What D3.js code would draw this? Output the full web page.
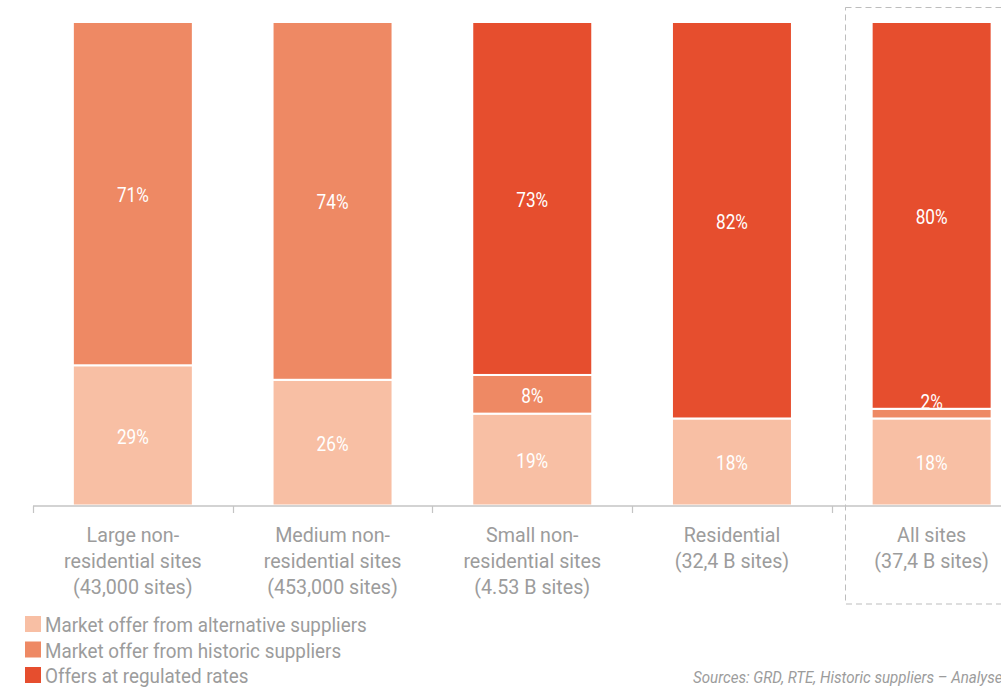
<!DOCTYPE html>
<html>
<head>
<meta charset="utf-8">
<script src="https://cdn.jsdelivr.net/npm/d3@7/dist/d3.min.js"></script>
<style>
  html, body { margin: 0; padding: 0; background: #fff; overflow: hidden; }
  svg { display: block; font-family: Roboto, "Noto Sans", sans-serif; }
</style>
</head>
<body>
<svg id="chart" width="1001" height="687"></svg>
<script>
// Site segments (x axis)
const categories = ["Large", "Medium", "Small", "Residential", "All"];
const categoryLabels = [
  ["Large non-", "residential sites", "(43,000 sites)"],
  ["Medium non-", "residential sites", "(453,000 sites)"],
  ["Small non-", "residential sites", "(4.53 B sites)"],
  ["Residential", "(32,4 B sites)"],
  ["All sites", "(37,4 B sites)"]
];

// Share of sites by offer type, in %
const alternativeSuppliers = [29, 26, 19, 18, 18];
const historicSuppliers    = [71, 74, 8, 0, 2];
const regulatedRates       = [0, 0, 73, 82, 80];

const seriesKeys   = ["alternative", "historic", "regulated"];
const seriesLabels = [
  "Market offer from alternative suppliers",
  "Market offer from historic suppliers",
  "Offers at regulated rates"
];
const seriesColors = ["#F8BFA4", "#EE8964", "#E64E2E"];

const sourceNote = "Sources: GRD, RTE, Historic suppliers \u2013 Analyses CRE";

const rows = categories.map((c, i) => ({
  category: c,
  alternative: alternativeSuppliers[i],
  historic: historicSuppliers[i],
  regulated: regulatedRates[i]
}));

const svg = d3.select("#chart");
const textGrey = "#9c9c9c";

const x = d3.scaleBand().domain(categories).range([33, 33 + 5 * 199.7]).padding(0);
const y = d3.scaleLinear().domain([0, 100]).range([505.5, 22]);
const color = d3.scaleOrdinal().domain(seriesKeys).range(seriesColors);
const barInset = (x.bandwidth() - 120) / 2;

const stacked = d3.stack().keys(seriesKeys)(rows);

// dashed frame around the "All sites" column
svg.append("rect")
  .attr("x", 845.5).attr("y", 7.5)
  .attr("width", 200).attr("height", 596.5)
  .attr("fill", "none")
  .attr("stroke", "#bdbdbd")
  .attr("stroke-width", 1)
  .attr("stroke-dasharray", "6,4");

// stacked bars
const layers = svg.append("g").selectAll("g")
  .data(stacked)
  .join("g")
  .attr("fill", d => color(d.key));

layers.selectAll("rect")
  .data(d => d.filter(s => s[1] - s[0] > 0))
  .join("rect")
  .attr("x", d => x(d.data.category) + barInset)
  .attr("width", 120)
  .attr("y", d => y(d[1]))
  .attr("height", d => y(d[0]) - y(d[1]))
  .attr("stroke", "#fff")
  .attr("stroke-width", 2);

// text drawn with horizontally narrowed letterforms
function squeezedText(parent, tx, ty, txt, size, fill, anchor, sx, style) {
  const g = parent.append("g").attr("transform", `translate(${tx},${ty}) scale(${sx},1)`);
  const t = g.append("text")
    .attr("text-anchor", anchor)
    .attr("font-size", size)
    .attr("fill", fill)
    .text(txt);
  if (style) t.attr("font-style", style);
  return t;
}

// value labels inside segments
const labelLayer = svg.append("g");
stacked.forEach(layer => {
  layer.forEach(s => {
    const v = s[1] - s[0];
    if (v <= 0) return;
    const top = y(s[1]), bottom = y(s[0]);
    const h = bottom - top;
    const cx = x(s.data.category) + x.bandwidth() / 2;
    const by = h < 20 ? top : (top + bottom) / 2 + 8.5;
    squeezedText(labelLayer, cx, by, v + "%", 20, "#fff", "middle", 0.86);
  });
});

// axis line with ticks at band edges
const axis = svg.append("g");
axis.append("line")
  .attr("x1", x.range()[0]).attr("x2", 1001)
  .attr("y1", 506).attr("y2", 506)
  .attr("stroke", "#c4c4c4").attr("stroke-width", 1.5);
categories.forEach(c => {
  axis.append("line")
    .attr("x1", Math.round(x(c)) + 0.5).attr("x2", Math.round(x(c)) + 0.5)
    .attr("y1", 506).attr("y2", 513)
    .attr("stroke", "#c4c4c4").attr("stroke-width", 1.2);
});

// category labels
categoryLabels.forEach((lines, i) => {
  const cx = x(categories[i]) + x.bandwidth() / 2;
  lines.forEach((ln, j) => {
    squeezedText(axis, cx, 542 + j * 26, ln, 20.5, textGrey, "middle", 0.96);
  });
});

// legend
const legend = svg.append("g");
seriesLabels.forEach((lbl, i) => {
  const base = 632 + i * 25.5;
  legend.append("rect")
    .attr("x", 25).attr("y", base - 16)
    .attr("width", 16).attr("height", 16)
    .attr("fill", seriesColors[i]);
  squeezedText(legend, 45, base, lbl, 20.5, textGrey, "start", 0.92);
});

// source note
squeezedText(svg, 693, 683, sourceNote, 17, textGrey, "start", 0.89, "italic");
</script>
</body>
</html>
